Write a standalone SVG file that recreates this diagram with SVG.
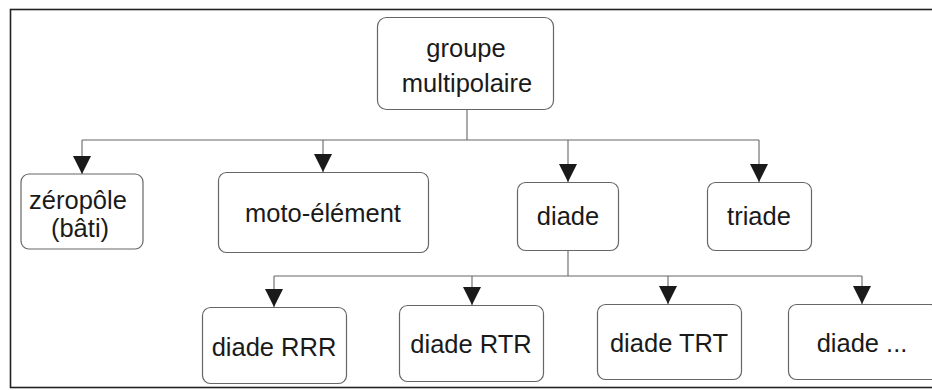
<svg xmlns="http://www.w3.org/2000/svg" width="932" height="390" viewBox="0 0 932 390">
<style>
.frame{fill:none;stroke:#222;stroke-width:1.6}
.box{fill:#fff;stroke:#666;stroke-width:1.2}
.lbl{font-family:"Liberation Sans",Arial,sans-serif;font-size:25.5px;fill:#1a1a1a;text-anchor:middle}
.wire{fill:none;stroke:#666;stroke-width:1.1}
</style>
<defs>
<marker id="arr" viewBox="0 0 10 10" refX="10" refY="5" markerUnits="userSpaceOnUse" markerWidth="18" markerHeight="19" orient="auto">
<path d="M0,0 L10,5 L0,10 z" fill="#1a1a1a"/>
</marker>
</defs>
<rect width="932" height="390" fill="#fff"/>
<rect class="frame" x="10.5" y="9.5" width="930" height="378"/>

<g id="connectors">
<path class="wire" d="M467,110 V140 M82,140 H759"/>
<path class="wire" d="M82,140 V174" marker-end="url(#arr)"/>
<path class="wire" d="M323,140 V172" marker-end="url(#arr)"/>
<path class="wire" d="M568,140 V182" marker-end="url(#arr)"/>
<path class="wire" d="M759,140 V182" marker-end="url(#arr)"/>
<path class="wire" d="M568,250 V276 M274,276 H862"/>
<path class="wire" d="M274,276 V307" marker-end="url(#arr)"/>
<path class="wire" d="M472,276 V305" marker-end="url(#arr)"/>
<path class="wire" d="M668,276 V304" marker-end="url(#arr)"/>
<path class="wire" d="M862,276 V304" marker-end="url(#arr)"/>
</g>

<g id="root">
<rect class="box" x="377.5" y="17.5" width="176" height="92" rx="9"/>
<text class="lbl" x="466" y="57">groupe</text>
<text class="lbl" x="467" y="92">multipolaire</text>
</g>

<g id="zeropole">
<rect class="box" x="21" y="174" width="122" height="75" rx="8"/>
<text class="lbl" x="78" y="209">zéropôle</text>
<text class="lbl" x="80" y="237">(bâti)</text>
</g>

<g id="moto">
<rect class="box" x="218.5" y="172.5" width="210" height="80" rx="8"/>
<text class="lbl" x="323" y="222">moto-élément</text>
</g>

<g id="diade">
<rect class="box" x="517.5" y="182.5" width="101" height="68" rx="8"/>
<text class="lbl" x="568" y="225">diade</text>
</g>

<g id="triade">
<rect class="box" x="707.5" y="182.5" width="104" height="68" rx="8"/>
<text class="lbl" x="759" y="225">triade</text>
</g>

<g id="rrr">
<rect class="box" x="202.5" y="307.5" width="144" height="76" rx="8"/>
<text class="lbl" x="274" y="356">diade RRR</text>
</g>

<g id="rtr">
<rect class="box" x="399.5" y="305.5" width="144" height="76" rx="8"/>
<text class="lbl" x="471" y="353">diade RTR</text>
</g>

<g id="trt">
<rect class="box" x="597.5" y="304.5" width="144" height="75" rx="8"/>
<text class="lbl" x="669" y="352">diade TRT</text>
</g>

<g id="etc">
<rect class="box" x="788.5" y="304.5" width="150" height="75" rx="8"/>
<text class="lbl" x="862" y="352">diade ...</text>
</g>
</svg>
